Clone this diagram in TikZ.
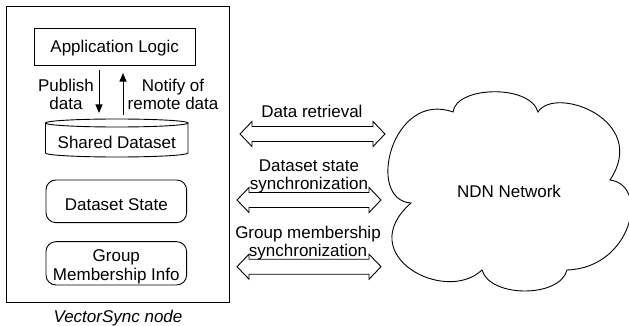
\documentclass[tikz,border=0pt]{standalone}
\usepackage{fontspec}
\setmainfont{Liberation Sans}
\usetikzlibrary{arrows.meta}

% outlined double-headed arrow between two tip points
\newcommand\dblarrow[2]{%
  \draw[line] (#1) -- ++(12,-12.5) -- ++(0,5)
    -- ([xshift=-12pt,yshift=7.5pt]#2) -- ++(0,-5) -- (#2)
    -- ++(-12,12.5) -- ++(0,-5)
    -- ([xshift=12pt,yshift=-7.5pt]#1) -- ++(0,5) -- cycle;}

\begin{document}
\begin{tikzpicture}[x=1pt,y=-1pt,
  line/.style={draw=black,line width=0.9pt},
  box/.style={line,inner sep=0pt,outer sep=0pt},
  rbox/.style={box,rounded corners=10pt},
  lbl/.style={font=\fontsize{17}{18.3}\selectfont,inner sep=0pt,anchor=base},
  arr/.style={line,-{Triangle[length=8.5pt,width=7pt]}}]
\useasboundingbox (0,0) rectangle (629,326);

% node container
\node[box,minimum width=223pt,minimum height=295.5pt] (vs) at (117.5,154.25) {};
\node[lbl,font=\fontsize{17}{18.3}\selectfont\itshape] (vslbl) at (118,322) {VectorSync node};

% application layer
\node[box,minimum width=160.7pt,minimum height=36.7pt] (app) at (114.7,46.7) {};
\node[lbl] (applbl) at (114.7,52.5) {Application Logic};

% shared dataset (cylinder)
\node[inner sep=0pt,outer sep=0pt,minimum width=142.5pt,minimum height=30pt] (db) at (116.75,138) {};
\draw[line] (db.north west) -- (db.south west)
  arc[start angle=180,end angle=360,x radius=71.25pt,y radius=4pt] -- (db.north east);
\draw[line] (db.north) ellipse [x radius=71.25pt,y radius=4pt];
\node[lbl] (dblbl) at (116.75,148.3) {Shared Dataset};

% publish / notify arrows
\coordinate (pubx) at (99,0);
\coordinate (notx) at (123,0);
\draw[arr,shorten <=5pt,shorten >=10pt] (app.south -| pubx) -- (db.north -| pubx);
\draw[arr,shorten <=8pt,shorten >=8pt] (db.north -| notx) -- (app.south -| notx);
\node[lbl] (pub1) at (66,91.5) {Publish};
\node[lbl] (pub2) at (66,109.5) {data};
\node[lbl] (not1) at (173,91.5) {Notify of};
\node[lbl] (not2) at (173,109.5) {remote data};

% state boxes
\node[rbox,minimum width=140.7pt,minimum height=42.7pt] (ds) at (116.3,201.3) {};
\node[lbl] (dslbl) at (116.3,210.7) {Dataset State};
\node[rbox,minimum width=140.7pt,minimum height=43.3pt] (gm) at (116.3,263.3) {};
\node[lbl] (gm1) at (116.3,261.7) {Group};
\node[lbl] (gm2) at (116.3,280) {Membership Info};

% network cloud
\coordinate (n1) at (453,112);
\coordinate (n2) at (538,112);
\coordinate (n3) at (610,180);
\coordinate (n4) at (567,270);
\coordinate (n5) at (482,270);
\coordinate (n6) at (411,203);
\draw[line] (n6) .. controls (365,200) and (392,90) .. (n1)
  .. controls (456,86) and (530,84) .. (n2)
  .. controls (555,85) and (650,120) .. (n3)
  .. controls (650,185) and (632,268) .. (n4)
  .. controls (560,298) and (490,298) .. (n5)
  .. controls (445,305) and (352,255) .. (n6) -- cycle;
\node[lbl] (ndn) at (509,197.3) {NDN Network};

% exchanges between node and network
\coordinate (a1l) at (240,134);
\coordinate (a1r) at (385,134);
\coordinate (a2l) at (237,200);
\coordinate (a2r) at (381,200);
\coordinate (a3l) at (237,266.7);
\coordinate (a3r) at (381,266.7);
\dblarrow{a1l}{a1r}
\dblarrow{a2l}{a2r}
\dblarrow{a3l}{a3r}
\node[lbl] (a1t) at (312,117.5) {Data retrieval};
\node[lbl] (a2t1) at (309,171.5) {Dataset state};
\node[lbl] (a2t2) at (309,189.5) {synchronization};
\node[lbl] (a3t1) at (308,238.3) {Group membership};
\node[lbl] (a3t2) at (308,256.5) {synchronization};
\end{tikzpicture}
\end{document}
